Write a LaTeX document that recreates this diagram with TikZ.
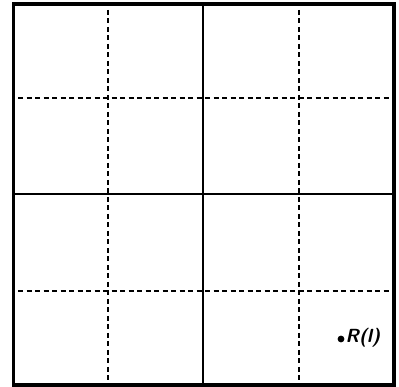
\documentclass[tikz,border=0pt]{standalone}
\begin{document}
\begin{tikzpicture}[x=1pt,y=1pt,
  border/.style={line width=3.2pt},
  midline/.style={line width=2pt},
  gridline/.style={line width=1.6pt, dash pattern=on 5pt off 3.5pt},
  lbl/.style={font=\fontsize{19}{21}\selectfont\sffamily\bfseries\itshape, inner sep=0pt}]
\useasboundingbox (0,0) rectangle (399,387);
% outer frame (y = 387 - pixel row)
\coordinate (bl) at (13.5,2);
\coordinate (tr) at (394,383);
\draw[border] (bl) rectangle (tr);
% solid centre lines
\draw[midline] (203,2) -- (203,383);
\draw[midline] (13.5,193) -- (394,193);
% dashed quarter lines
\draw[gridline] (108,377) -- (108,7);
\draw[gridline] (299,377) -- (299,7);
\draw[gridline] (18,289) -- (390,289);
\draw[gridline] (18,96) -- (390,96);
% point and label
\fill (341,48) circle (3.4pt);
\node[lbl, anchor=west] (R) at (345.5,49) {R(l)};
\end{tikzpicture}
\end{document}
